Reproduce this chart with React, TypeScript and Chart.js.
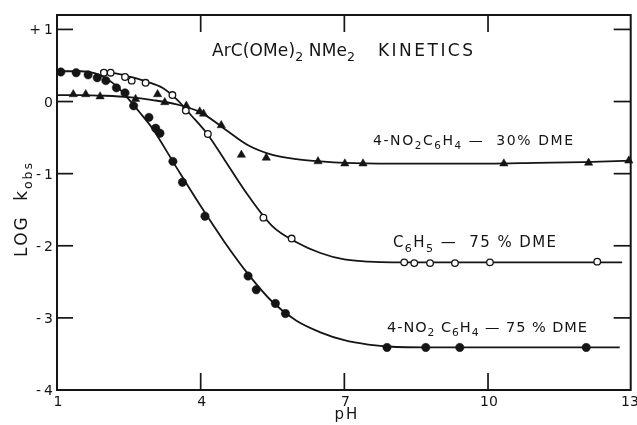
import React, { useEffect, useRef } from "react";
import { Chart, registerables } from "chart.js";

Chart.register(...registerables);

const FONT = '"DejaVu Sans", sans-serif';
const INK = "#151515";

// ---- measured points: 4-NO2C6H4, 75% DME (filled circles)
const filledPH = [1.08, 1.40, 1.65, 1.84, 2.02, 2.24, 2.42, 2.60, 2.92, 3.06, 3.15, 3.42, 3.62, 4.09, 4.99, 5.16, 5.56, 5.77, 7.89, 8.70, 9.41, 12.05];
const filledLogK = [0.41, 0.40, 0.37, 0.33, 0.29, 0.19, 0.12, -0.06, -0.22, -0.37, -0.44, -0.83, -1.12, -1.59, -2.42, -2.61, -2.80, -2.94, -3.41, -3.41, -3.41, -3.41];

// ---- C6H5, 75% DME (open circles)
const openPH = [1.98, 2.12, 2.42, 2.56, 2.85, 3.41, 3.69, 4.15, 5.31, 5.90, 8.25, 8.46, 8.79, 9.31, 10.04, 12.28];
const openLogK = [0.40, 0.40, 0.34, 0.29, 0.26, 0.09, -0.125, -0.45, -1.61, -1.90, -2.23, -2.24, -2.24, -2.24, -2.23, -2.22];

// ---- 4-NO2C6H4, 30% DME (filled triangles)
const triPH = [1.34, 1.60, 1.90, 2.64, 3.10, 3.25, 3.70, 3.98, 4.06, 4.43, 4.85, 5.37, 6.45, 7.01, 7.39, 10.33, 12.10, 12.94];
const triLogK = [0.10, 0.10, 0.07, 0.035, 0.10, -0.01, -0.06, -0.14, -0.17, -0.33, -0.74, -0.78, -0.83, -0.86, -0.86, -0.86, -0.85, -0.82];

// ---- fitted curves
const filledCurvePH = [1, 1.5, 1.8, 2.0, 2.25, 2.5, 2.75, 3.0, 3.5, 4.0, 4.5, 5.0, 5.5, 6.0, 6.5, 7.0, 7.5, 8.0, 9.0, 12.75];
const filledCurveLogK = [0.42, 0.42, 0.39, 0.33, 0.21, 0.03, -0.17, -0.38, -0.92, -1.45, -1.95, -2.40, -2.78, -3.04, -3.20, -3.31, -3.37, -3.40, -3.41, -3.41];

const openCurvePH = [1.9, 2.3, 2.6, 2.9, 3.2, 3.5, 3.8, 4.15, 4.5, 5.0, 5.5, 6.0, 6.5, 7.0, 7.5, 8.0, 12.8];
const openCurveLogK = [0.42, 0.38, 0.33, 0.27, 0.19, 0.03, -0.19, -0.46, -0.81, -1.31, -1.73, -1.95, -2.10, -2.19, -2.22, -2.23, -2.23];

const triCurvePH = [1, 1.5, 2, 2.5, 3, 3.5, 4, 4.5, 5, 5.5, 6, 6.5, 7, 8, 9, 10, 11, 12, 13];
const triCurveLogK = [0.09, 0.09, 0.08, 0.06, 0.02, -0.04, -0.15, -0.38, -0.61, -0.74, -0.80, -0.83, -0.85, -0.86, -0.86, -0.86, -0.85, -0.84, -0.82];

// ---- axes
const xTickValues = [1, 4, 7, 10, 13];
const xTickLabels = ["1", "4", "7", "10", "13"];
const yTickValues = [1, 0, -1, -2, -3, -4];
const yTickLabels = ["+1", "0", "-1", "-2", "-3", "-4"];
const xInnerTicks = [4, 7, 10];
const yInnerTicks = [1, 0, -1, -2, -3];

const X_MIN = 1, X_MAX = 13, Y_MIN = -4, Y_MAX = 1.2;

type Part = [string, boolean?];

function drawParts(
  ctx: CanvasRenderingContext2D,
  parts: Part[],
  x: number,
  y: number,
  size: number,
  align: "left" | "center" | "right",
  target?: number | null,
  spacing = 0,
  rotate = false
) {
  ctx.save();
  ctx.translate(x, y);
  if (rotate) ctx.rotate(-Math.PI / 2);
  const chars: { ch: string; fs: number; sub: boolean; w: number }[] = [];
  for (const [t, sub] of parts) {
    for (const ch of t) {
      const fs = sub ? size * 0.74 : size;
      ctx.font = `${fs}px ${FONT}`;
      chars.push({ ch, fs, sub: !!sub, w: ctx.measureText(ch).width });
    }
  }
  const natural = chars.reduce((s, c) => s + c.w, 0);
  const sp = target != null && chars.length > 1 ? (target - natural) / (chars.length - 1) : spacing;
  const total = natural + sp * (chars.length - 1);
  let cx = align === "left" ? 0 : align === "right" ? -total : -total / 2;
  const base = size * 0.36;
  ctx.textBaseline = "alphabetic";
  ctx.textAlign = "left";
  ctx.fillStyle = INK;
  for (const c of chars) {
    ctx.font = `${c.fs}px ${FONT}`;
    ctx.fillText(c.ch, cx, base + (c.sub ? size * 0.28 : 0));
    cx += c.w + sp;
  }
  ctx.restore();
}

const toXY = (xs: number[], ys: number[]) => xs.map((v, i) => ({ x: v, y: ys[i] }));

const framePlugin = {
  id: "frame",
  afterDatasetsDraw(chart: any) {
    const { ctx, chartArea: a, scales } = chart;
    const xs = scales.x;
    const ys = scales.y;
    ctx.save();
    ctx.strokeStyle = INK;
    ctx.lineWidth = 2;
    ctx.strokeRect(a.left, a.top, a.right - a.left - 1, a.bottom - a.top);
    ctx.lineWidth = 1.7;
    const line = (x1: number, y1: number, x2: number, y2: number) => {
      ctx.beginPath();
      ctx.moveTo(x1, y1);
      ctx.lineTo(x2, y2);
      ctx.stroke();
    };
    for (const v of yInnerTicks) {
      const py = ys.getPixelForValue(v);
      line(a.left, py, a.left + 16, py);
      line(a.right - 18, py, a.right - 1, py);
    }
    for (const v of xInnerTicks) {
      const px = xs.getPixelForValue(v);
      line(px, a.top, px, a.top + 17);
      line(px, a.bottom, px, a.bottom - 17);
    }
    // y tick labels
    yTickValues.forEach((v, i) => {
      const py = ys.getPixelForValue(v);
      drawParts(ctx, [[yTickLabels[i]]], a.left - 4, py, 14, "right", null, 3);
    });
    // x tick labels
    xTickValues.forEach((v, i) => {
      const px = Math.min(xs.getPixelForValue(v) + 1, 630);
      drawParts(ctx, [[xTickLabels[i]]], px, a.bottom + 11, 14, "center", null, 0);
    });
    // axis titles
    drawParts(ctx, [["pH"]], 346, 414, 15, "center", null, 2);
    drawParts(ctx, [["LOG  k"], ["obs", true]], 21, 210, 17, "center", 94, 0, true);
    // chart title
    drawParts(ctx, [["ArC(OMe)"], ["2", true], [" NMe"], ["2", true]], 212, 50, 17, "left", 143);
    drawParts(ctx, [["KINETICS"]], 378, 50, 17, "left", 95);
    // series labels
    drawParts(ctx, [["4-NO"], ["2", true], ["C"], ["6", true], ["H"], ["4", true], [" \u2014  30% DME"]], 373, 140, 14, "left", 200);
    drawParts(ctx, [["C"], ["6", true], ["H"], ["5", true], [" \u2014  75 % DME"]], 393, 242, 15, "left", 163);
    drawParts(ctx, [["4-NO"], ["2", true], [" C"], ["6", true], ["H"], ["4", true], [" \u2014 75 % DME"]], 387, 327, 14.5, "left", 200);
    ctx.restore();
  },
};

export default function App() {
  const ref = useRef<HTMLCanvasElement | null>(null);
  useEffect(() => {
    if (!ref.current) return;
    const curve = (xs: number[], ys: number[]) => ({
      data: toXY(xs, ys),
      showLine: true,
      borderColor: INK,
      borderWidth: 1.8,
      pointRadius: 0,
      cubicInterpolationMode: "monotone" as const,
      fill: false,
      order: 2,
      clip: false as any,
    });
    const chart = new Chart(ref.current, {
      type: "scatter",
      data: {
        datasets: [
          {
            data: toXY(openPH, openLogK),
            pointStyle: "circle",
            pointRadius: 3.3,
            pointBorderWidth: 1.3,
            pointBorderColor: INK,
            pointBackgroundColor: "#ffffff",
            showLine: false,
            order: 1,
            clip: false as any,
          },
          {
            data: toXY(filledPH, filledLogK),
            pointStyle: "circle",
            pointRadius: 4.2,
            pointBorderWidth: 0.5,
            pointBorderColor: INK,
            pointBackgroundColor: INK,
            showLine: false,
            order: 1,
            clip: false as any,
          },
          {
            data: toXY(triPH, triLogK),
            pointStyle: "triangle",
            pointRadius: 4.8,
            pointBorderWidth: 0.5,
            pointBorderColor: INK,
            pointBackgroundColor: INK,
            showLine: false,
            order: 1,
            clip: false as any,
          },
          curve(filledCurvePH, filledCurveLogK),
          curve(openCurvePH, openCurveLogK),
          curve(triCurvePH, triCurveLogK),
        ] as any,
      },
      options: {
        animation: false,
        responsive: false,
        devicePixelRatio: 1,
        layout: { padding: { left: 57, right: 4, top: 15, bottom: 35 } },
        plugins: { legend: { display: false }, tooltip: { enabled: false } },
        events: [],
        scales: {
          x: { type: "linear", min: X_MIN, max: X_MAX, display: false },
          y: { type: "linear", min: Y_MIN, max: Y_MAX, display: false },
        },
      },
      plugins: [framePlugin],
    });
    return () => chart.destroy();
  }, []);
  return (
    <div style={{ position: "fixed", left: 0, top: 0, width: 637, height: 425, background: "#fff" }}>
      <canvas ref={ref} width={637} height={425} style={{ display: "block" }} />
    </div>
  );
}
